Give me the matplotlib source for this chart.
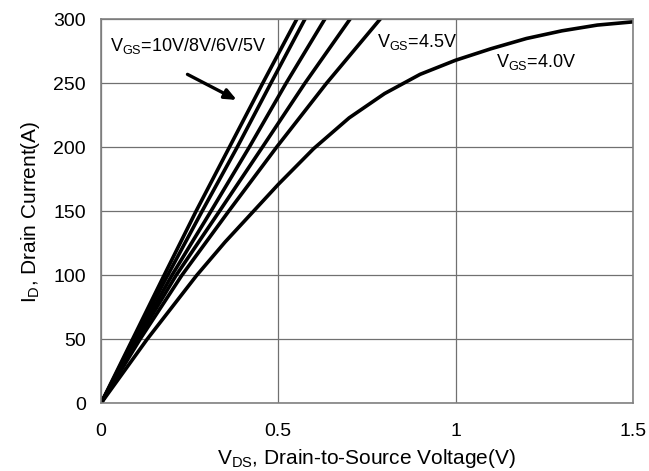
import matplotlib
matplotlib.use("Agg")
import matplotlib.pyplot as plt

plt.rcParams['font.family'] = ['Liberation Sans', 'DejaVu Sans']
plt.rcParams['mathtext.fontset'] = 'custom'
plt.rcParams['mathtext.rm'] = 'Liberation Sans'

# output curves, VDS (V) vs ID (A)
id_lin = [0, 50, 100, 150, 200, 250, 300]
vds_10v = [0, 0.089, 0.178, 0.268, 0.362, 0.456, 0.552]
vds_8v = [0, 0.093, 0.188, 0.285, 0.384, 0.479, 0.575]
vds_6v = [0, 0.098, 0.200, 0.310, 0.418, 0.522, 0.631]
vds_5v = [0, 0.103, 0.212, 0.334, 0.455, 0.575, 0.702]
vds_45v = [0, 0.110, 0.228, 0.360, 0.495, 0.636, 0.787]
vds_4v = [0, 0.13, 0.27, 0.35, 0.43, 0.5, 0.6, 0.7, 0.8, 0.9, 1.0, 1.1, 1.2, 1.3, 1.4, 1.5]
id_4v = [0, 50, 100, 126, 150, 171, 199, 223, 242, 257, 268, 277, 285, 291, 295.5, 298]

curves = [(vds_10v, id_lin), (vds_8v, id_lin), (vds_6v, id_lin),
          (vds_5v, id_lin), (vds_45v, id_lin), (vds_4v, id_4v)]

x_ticks = [0, 0.5, 1, 1.5]
x_labels = ['0', '0.5', '1', '1.5']
y_ticks = [0, 50, 100, 150, 200, 250, 300]

fig = plt.figure(figsize=(6.49, 4.71), dpi=100)
ax = fig.add_axes([0.1556, 0.1437, 0.8194, 0.8153])

for xs, ys in curves:
    ax.plot(xs, ys, color='black', lw=2.6, solid_joinstyle='round')

ax.set_xlim(0, 1.5)
ax.set_ylim(0, 300)
ax.set_xticks(x_ticks)
ax.set_xticklabels(x_labels)
ax.set_yticks(y_ticks)
ax.grid(True, color='#707070', lw=0.9)
ax.set_axisbelow(True)
for s in ax.spines.values():
    s.set_color('#808080')
    s.set_linewidth(1.2)
ax.tick_params(length=0, labelsize=14)
ax.tick_params(axis='x', pad=14)
ax.tick_params(axis='y', pad=11)

ax.set_xlabel(r'$\mathrm{V_{DS}}$, Drain-to-Source Voltage(V)', fontsize=15, labelpad=5)
ax.set_ylabel(r'$\mathrm{I_{D}}$, Drain Current(A)', fontsize=15, labelpad=8)

ax.text(0.025, 279, r'$\mathrm{V_{GS}}$=10V/8V/6V/5V', fontsize=13, va='center')
ax.text(0.778, 282, r'$\mathrm{V_{GS}}$=4.5V', fontsize=13, va='center')
ax.text(1.115, 267, r'$\mathrm{V_{GS}}$=4.0V', fontsize=13, va='center')
ax.annotate('', xy=(0.39, 236), xytext=(0.237, 258),
            arrowprops=dict(arrowstyle='-|>,head_length=0.7,head_width=0.3',
                            color='black', lw=2.4))

fig.savefig('out.png', dpi=100)
